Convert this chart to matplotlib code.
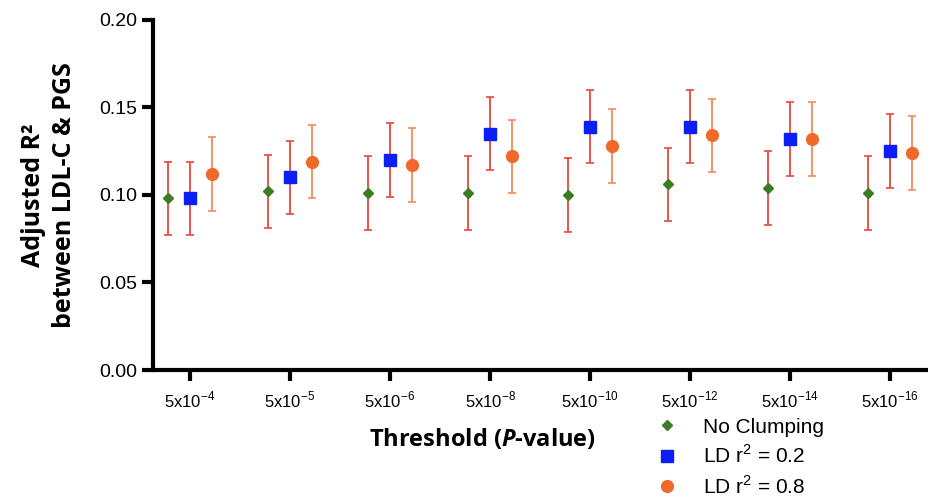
import matplotlib
matplotlib.use('Agg')
import matplotlib.pyplot as plt
from matplotlib.lines import Line2D
import numpy as np

thresholds = ['-4', '-5', '-6', '-8', '-10', '-12', '-14', '-16']
no_clump = [0.098, 0.102, 0.101, 0.101, 0.100, 0.106, 0.104, 0.101]
no_clump_err = [0.021, 0.021, 0.021, 0.021, 0.021, 0.021, 0.021, 0.021]
ld02 = [0.098, 0.110, 0.120, 0.135, 0.139, 0.139, 0.132, 0.125]
ld02_err = [0.021, 0.021, 0.021, 0.021, 0.021, 0.021, 0.021, 0.021]
ld08 = [0.112, 0.119, 0.117, 0.122, 0.128, 0.134, 0.132, 0.124]
ld08_err = [0.021, 0.021, 0.021, 0.021, 0.021, 0.021, 0.021, 0.021]

plt.rcParams['font.family'] = ['Liberation Sans', 'DejaVu Sans']
plt.rcParams['mathtext.fontset'] = 'custom'
plt.rcParams['mathtext.bfit'] = 'Open Sans:italic:bold'

fig = plt.figure(figsize=(9.29, 4.96), dpi=100)
ax = fig.add_axes([0.1647, 0.254, 0.8353, 0.706])

x = np.arange(len(thresholds))
off = 0.22

ax.errorbar(x - off, no_clump, yerr=no_clump_err, fmt='D', color='#3a7d22', ms=5,
            ecolor='#e8453c', elinewidth=1.3, capsize=3, capthick=1.2, zorder=3)
ax.errorbar(x, ld02, yerr=ld02_err, fmt='s', color='#0a1ef5', ms=8,
            ecolor='#e8453c', elinewidth=1.3, capsize=3, capthick=1.2, zorder=3)
ax.errorbar(x + off, ld08, yerr=ld08_err, fmt='o', color='#ef6a2a', ms=8.5,
            ecolor='#f28a5c', elinewidth=1.3, capsize=3, capthick=1.2, zorder=3)

ax.set_xlim(-0.37, 7.39)
ax.set_ylim(0, 0.20)
ax.set_yticks([0, 0.05, 0.10, 0.15, 0.20])
ax.set_yticklabels(['0.00', '0.05', '0.10', '0.15', '0.20'], fontsize=14)
ax.set_xticks(x)
ax.set_xticklabels([r'5x10$^{\mathregular{' + t + '}}$' for t in thresholds], fontsize=12)

for s in ['top', 'right']:
    ax.spines[s].set_visible(False)
for s in ['left', 'bottom']:
    ax.spines[s].set_linewidth(3)
ax.tick_params(width=3, length=8, direction='out')
ax.tick_params(axis='x', pad=6)

ax.set_ylabel('Adjusted R²\nbetween LDL-C & PGS', fontsize=18, fontweight='bold',
              family='Open Sans', labelpad=16, linespacing=1.3)
fig.text(0.519, 0.113, r'Threshold ($\mathbfit{P}$-value)', fontsize=17, fontweight='bold',
         family='Open Sans', ha='center', va='center')

handles = [
    Line2D([], [], marker='D', color='#3a7d22', ls='none', ms=5),
    Line2D([], [], marker='s', color='#0a1ef5', ls='none', ms=8),
    Line2D([], [], marker='o', color='#ef6a2a', ls='none', ms=8.5),
]
labels = ['No Clumping', 'LD r$^{\\mathregular{2}}$ = 0.2', 'LD r$^{\\mathregular{2}}$ = 0.8']
fig.legend(handles, labels, loc='upper left', bbox_to_anchor=(0.696, 0.158),
           frameon=False, fontsize=15, handletextpad=0.7, labelspacing=0.38,
           borderaxespad=0, borderpad=0)

fig.savefig('out.png', dpi=100)
